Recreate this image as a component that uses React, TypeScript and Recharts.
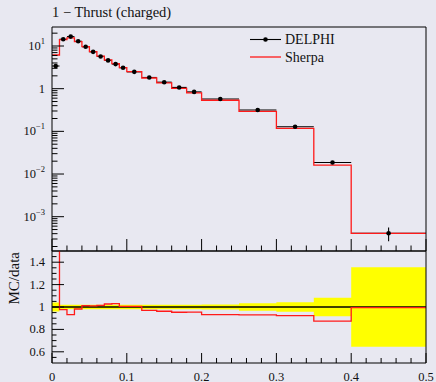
import React from 'react';
import { ComposedChart, Line, Scatter, ErrorBar, XAxis, YAxis, Area } from 'recharts';

// ---------- data ----------
const binEdges = [0, 0.01, 0.02, 0.03, 0.04, 0.05, 0.06, 0.07, 0.08, 0.09, 0.1, 0.12, 0.14, 0.16, 0.18, 0.2, 0.25, 0.3, 0.35, 0.4, 0.5];
const delphiValues = [3.4, 14.4, 16.6, 12.9, 9.6, 7.3, 5.7, 4.6, 3.77, 3.1, 2.48, 1.83, 1.42, 1.07, 0.84, 0.575, 0.317, 0.128, 0.0186, 0.00041];
const delphiRelErr = [0.04, 0.02, 0.02, 0.02, 0.02, 0.02, 0.02, 0.02, 0.02, 0.02, 0.02, 0.021, 0.021, 0.021, 0.021, 0.022, 0.033, 0.042, 0.083, 0.355];
const sherpaValues = [6.15, 14.1, 15.5, 12.7, 9.7, 7.4, 5.8, 4.7, 3.88, 3.12, 2.5, 1.78, 1.37, 1.02, 0.8, 0.536, 0.294, 0.118, 0.0162, 0.000408];
const sherpaRatio = [1.8, 0.977, 0.932, 0.982, 1.012, 1.01, 1.015, 1.027, 1.03, 1.006, 1.006, 0.97, 0.962, 0.953, 0.955, 0.932, 0.929, 0.923, 0.873, 0.995];

const title = '1 \u2212 Thrust (charged)';
const legendLabels = ['DELPHI', 'Sherpa'];
const ratioLabel = 'MC/data';

const topMajorTicks = [0.001, 0.01, 0.1, 1, 10];
const topTickBase = ['10', '10', '10', '1', '10'];
const topTickExp = ['\u22123', '\u22122', '\u22121', '', '1'];
const topDomain = [1.57e-4, 27.9];

const ratioMajorTicks = [0.6, 0.8, 1.0, 1.2, 1.4];
const ratioTickLabels = ['0.6', '0.8', '1', '1.2', '1.4'];
const ratioDomain = [0.5, 1.5];

const xMajorTicks = [0, 0.1, 0.2, 0.3, 0.4, 0.5];
const xTickLabels = ['0', '0.1', '0.2', '0.3', '0.4', '0.5'];

// ---------- derived tables ----------
const nBins = delphiValues.length;
const stepRows = (vals: number[]) =>
  binEdges.map((e, i) => ({ x: e, v: vals[Math.min(i, nBins - 1)] }));

const sherpaStep = stepRows(sherpaValues);
const ratioStep = stepRows(sherpaRatio);
const unitStep = binEdges.map((e) => ({ x: e, v: 1 }));
const bandStep = binEdges.map((e, i) => {
  const r = delphiRelErr[Math.min(i, nBins - 1)];
  return { x: e, band: [1 - r, 1 + r] };
});
const delphiPoints = delphiValues.map((v, i) => ({
  x: (binEdges[i] + binEdges[i + 1]) / 2,
  y: v,
  ex: (binEdges[i + 1] - binEdges[i]) / 2,
  ey: v * delphiRelErr[i],
}));

const topMinorTicks: number[] = [];
for (let d = -4; d <= 1; d++) {
  for (let k = 2; k <= 9; k++) {
    const t = k * Math.pow(10, d);
    if (t > topDomain[0] && t < topDomain[1]) topMinorTicks.push(t);
  }
}
const topTicks = [...topMajorTicks, ...topMinorTicks].sort((a, b) => a - b);
const xTicks: number[] = [];
for (let k = 0; k <= 25; k++) xTicks.push(k / 50);
const ratioTicks: number[] = [];
for (let k = 11; k <= 29; k++) ratioTicks.push(k / 20);

const FONT = "'Liberation Serif', 'Times New Roman', serif";
const BG = '#e8e8f1';
const RED = '#ff1a1a';
const AXIS = { stroke: '#000', strokeWidth: 1 };

const near = (a: number, b: number) => Math.abs(a - b) < 1e-6 * Math.max(1e-9, Math.abs(b));

const TopYTick = (props: any) => {
  const { x, y, payload } = props;
  const idx = topMajorTicks.findIndex((t) => near(payload.value, t));
  const major = idx >= 0;
  return (
    <g>
      <line x1={x} x2={x + (major ? 12 : 5.5)} y1={y} y2={y} stroke="#000" strokeWidth={1} />
      {major && (
        <text x={x - 7} y={y} textAnchor="end" dominantBaseline="central" fontSize={12.5} fontFamily={FONT} fill="#111">
          {topTickBase[idx]}
          {topTickExp[idx] && (
            <tspan dy={-5} fontSize={8.5}>
              {topTickExp[idx]}
            </tspan>
          )}
        </text>
      )}
    </g>
  );
};

const TopXTick = (props: any) => {
  const { x, y, payload } = props;
  const major = xMajorTicks.some((t) => Math.abs(t - payload.value) < 1e-9);
  return <line x1={x} x2={x} y1={y} y2={y - (major ? 12 : 5.5)} stroke="#000" strokeWidth={1} />;
};

const RatioXTick = (props: any) => {
  const { x, y, payload } = props;
  const idx = xMajorTicks.findIndex((t) => Math.abs(t - payload.value) < 1e-9);
  const major = idx >= 0;
  return (
    <g>
      <line x1={x} x2={x} y1={y} y2={y - (major ? 10 : 5)} stroke="#000" strokeWidth={1} />
      {major && (
        <text x={x} y={y + 17.5} textAnchor="middle" fontSize={12.5} fontFamily={FONT} fill="#111">
          {xTickLabels[idx]}
        </text>
      )}
    </g>
  );
};

const RatioYTick = (props: any) => {
  const { x, y, payload } = props;
  const idx = ratioMajorTicks.findIndex((t) => Math.abs(t - payload.value) < 1e-9);
  const major = idx >= 0;
  return (
    <g>
      <line x1={x} x2={x + (major ? 12 : 4.5)} y1={y} y2={y} stroke="#000" strokeWidth={1} />
      {major && (
        <text x={x - 7} y={y} textAnchor="end" dominantBaseline="central" fontSize={12.5} fontFamily={FONT} fill="#111">
          {ratioTickLabels[idx]}
        </text>
      )}
    </g>
  );
};

const RatioYLabel = (props: any) => {
  const vb = props.viewBox || {};
  const cx = (vb.x || 0) + 13.5;
  const top = (vb.y || 0) + 1;
  return (
    <text
      x={cx}
      y={top}
      transform={`rotate(-90, ${cx}, ${top})`}
      textAnchor="end"
      dominantBaseline="central"
      fontSize={15}
      fontFamily={FONT}
      fill="#111"
    >
      {ratioLabel}
    </text>
  );
};

const dotShape = (p: any) => <circle cx={p.cx} cy={p.cy} r={2.3} fill="#000" />;
const noShape = () => <g />;

export default function App() {
  return (
    <div style={{ position: 'absolute', left: 0, top: 0, width: 436, height: 382, background: BG, overflow: 'hidden', fontFamily: FONT }}>
      <div style={{ position: 'absolute', left: 52, top: 3, fontSize: 14.5, color: '#111', whiteSpace: 'nowrap', lineHeight: '18px' }}>
        {title}
      </div>

      {/* main panel */}
      <div style={{ position: 'absolute', left: 0, top: 0 }}>
        <ComposedChart width={436} height={252} margin={{ top: 26, right: 9, bottom: 0, left: 0 }}>
          <XAxis
            dataKey="x"
            type="number"
            domain={[0, 0.5]}
            ticks={xTicks}
            interval={0}
            tick={<TopXTick />}
            tickLine={false}
            tickSize={0}
            tickMargin={0}
            height={1}
            axisLine={AXIS}
          />
          <XAxis xAxisId="top" orientation="top" type="number" domain={[0, 0.5]} tick={false} tickLine={false} height={1} axisLine={AXIS} />
          <YAxis
            type="number"
            scale="log"
            domain={topDomain}
            allowDataOverflow
            ticks={topTicks}
            interval={0}
            tick={<TopYTick />}
            tickLine={false}
            tickSize={0}
            tickMargin={0}
            width={52}
            axisLine={AXIS}
          />
          <YAxis yAxisId="r" orientation="right" type="number" domain={[0, 1]} tick={false} tickLine={false} width={1} axisLine={AXIS} />
          <Scatter data={delphiPoints} dataKey="y" shape={noShape} isAnimationActive={false}>
            <ErrorBar dataKey="ex" direction="x" width={0} stroke="#000" strokeWidth={1.1} />
            <ErrorBar dataKey="ey" direction="y" width={0} stroke="#000" strokeWidth={1.1} />
          </Scatter>
          <Line data={sherpaStep} dataKey="v" type="stepAfter" stroke={RED} strokeWidth={1.3} dot={false} isAnimationActive={false} />
          <Scatter data={delphiPoints} dataKey="y" shape={dotShape} isAnimationActive={false} />
        </ComposedChart>
      </div>

      {/* ratio panel */}
      <div style={{ position: 'absolute', left: 0, top: 250 }}>
        <ComposedChart width={436} height={132} margin={{ top: 0, right: 9, bottom: 0, left: 0 }}>
          <XAxis
            dataKey="x"
            type="number"
            domain={[0, 0.5]}
            ticks={xTicks}
            interval={0}
            tick={<RatioXTick />}
            tickLine={false}
            tickSize={0}
            tickMargin={0}
            height={19}
            axisLine={AXIS}
          />
          <XAxis xAxisId="top" orientation="top" type="number" domain={[0, 0.5]} tick={false} tickLine={false} height={1} axisLine={AXIS} />
          <YAxis
            type="number"
            domain={ratioDomain}
            allowDataOverflow
            ticks={ratioTicks}
            interval={0}
            tick={<RatioYTick />}
            tickLine={false}
            tickSize={0}
            tickMargin={0}
            width={52}
            axisLine={AXIS}
            label={<RatioYLabel />}
          />
          <YAxis yAxisId="r" orientation="right" type="number" domain={[0, 1]} tick={false} tickLine={false} width={1} axisLine={AXIS} />
          <Area data={bandStep} dataKey="band" type="stepAfter" stroke="none" fill="#ffff00" fillOpacity={1} isAnimationActive={false} />
          <Line data={unitStep} dataKey="v" type="stepAfter" stroke="#000" strokeWidth={1.5} dot={false} isAnimationActive={false} />
          <Line data={ratioStep} dataKey="v" type="stepAfter" stroke={RED} strokeWidth={1.3} dot={false} isAnimationActive={false} />
        </ComposedChart>
      </div>

      {/* legend */}
      <div style={{ position: 'absolute', left: 250, top: 30 }}>
        <svg width={120} height={40} style={{ overflow: 'visible' }}>
          <line x1={0} x2={31} y1={9.5} y2={9.5} stroke="#000" strokeWidth={1.1} />
          <circle cx={15.5} cy={9.5} r={2.3} fill="#000" />
          <text x={35} y={9.5} dominantBaseline="central" fontSize={14} fontFamily={FONT} fill="#111">
            {legendLabels[0]}
          </text>
          <line x1={0} x2={31} y1={27} y2={27} stroke={RED} strokeWidth={1.3} />
          <text x={35} y={27} dominantBaseline="central" fontSize={14} fontFamily={FONT} fill="#111">
            {legendLabels[1]}
          </text>
        </svg>
      </div>
    </div>
  );
}
